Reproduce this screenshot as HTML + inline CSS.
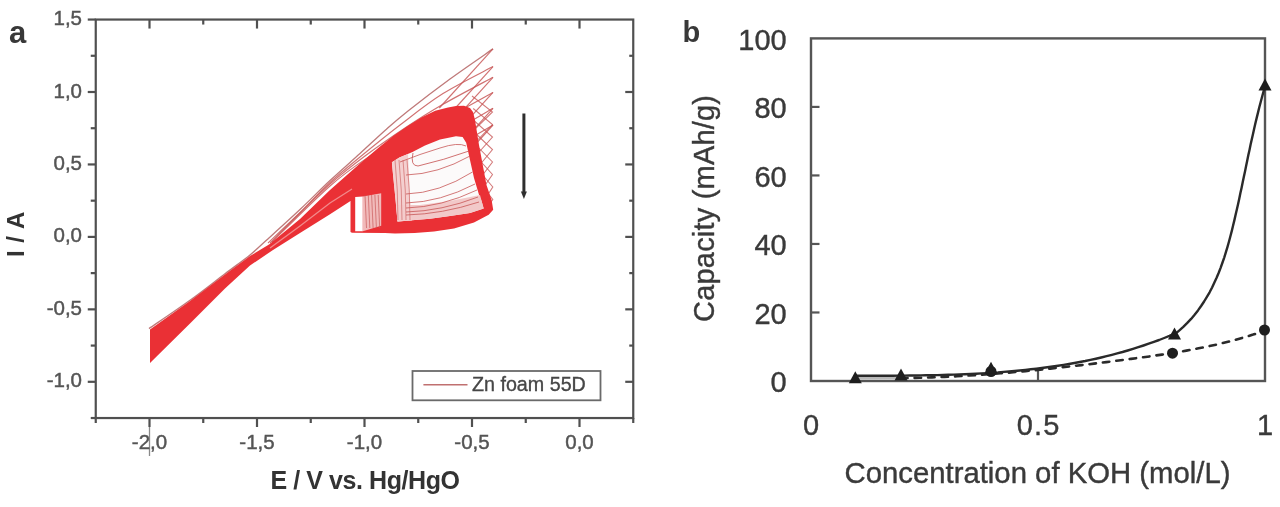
<!DOCTYPE html>
<html><head><meta charset="utf-8">
<style>
html,body{margin:0;padding:0;background:#fff;}
body{width:1280px;height:507px;overflow:hidden;}
svg{display:block;font-family:"Liberation Sans", sans-serif;filter:blur(0.6px);}
</style></head>
<body>
<svg width="1280" height="507" viewBox="0 0 1280 507">
<rect width="1280" height="507" fill="#ffffff"/>
<path d="M149.00,328.60 C155.83,323.88 177.33,309.43 190.00,300.30 C202.67,291.17 215.00,281.35 225.00,273.80 C235.00,266.25 243.33,260.38 250.00,255.00 C256.67,249.62 256.67,249.08 265.00,241.50 C273.33,233.92 289.17,219.67 300.00,209.50 C310.83,199.33 320.00,189.83 330.00,180.50 C340.00,171.17 350.83,161.83 360.00,153.50 C369.17,145.17 377.00,137.58 385.00,130.50 C393.00,123.42 397.17,119.58 408.00,111.00 C418.83,102.42 435.83,89.35 450.00,79.00 C464.17,68.65 485.83,53.92 493.00,48.90" stroke="#b86a6a" stroke-width="1.3" fill="none" opacity="0.9"/>
<path d="M268.00,243.00 C273.33,237.92 289.67,222.58 300.00,212.50 C310.33,202.42 320.00,191.75 330.00,182.50 C340.00,173.25 348.33,166.58 360.00,157.00 C371.67,147.42 386.17,135.57 400.00,125.00 C413.83,114.43 427.50,103.33 443.00,93.60 C458.50,83.87 484.67,71.10 493.00,66.60" stroke="#c85858" stroke-width="1.15" fill="none" opacity="0.85"/>
<path d="M270.00,243.00 C275.00,238.00 290.00,222.83 300.00,213.00 C310.00,203.17 319.17,193.50 330.00,184.00 C340.83,174.50 352.50,165.33 365.00,156.00 C377.50,146.67 392.00,136.62 405.00,128.00 C418.00,119.38 428.33,112.75 443.00,104.30 C457.67,95.85 484.67,81.80 493.00,77.30" stroke="#c85858" stroke-width="1.15" fill="none" opacity="0.85"/>
<path d="M272.00,242.00 C281.67,232.67 313.67,200.33 330.00,186.00 C346.33,171.67 356.67,165.00 370.00,156.00 C383.33,147.00 397.83,138.10 410.00,132.00 C422.17,125.90 429.17,126.00 443.00,119.40 C456.83,112.80 484.67,96.90 493.00,92.40" stroke="#c85858" stroke-width="1.15" fill="none" opacity="0.85"/>
<path d="M400.00,140.00 C407.17,139.17 427.50,140.28 443.00,135.00 C458.50,129.72 484.67,112.75 493.00,108.30" stroke="#c85858" stroke-width="1.15" fill="none" opacity="0.85"/>
<path d="M440.00,150.00 C445.00,148.00 461.17,142.17 470.00,138.00 C478.83,133.83 489.17,127.17 493.00,125.00" stroke="#c85858" stroke-width="1.15" fill="none" opacity="0.85"/>
<path d="M493,48.9 L439.3,108.0" stroke="#c85858" stroke-width="1.15" fill="none" opacity="0.85"/>
<path d="M493,66.6 L455.4,108.0" stroke="#c85858" stroke-width="1.15" fill="none" opacity="0.85"/>
<path d="M493,77.3 L461.2,112.3" stroke="#c85858" stroke-width="1.15" fill="none" opacity="0.85"/>
<path d="M493,92.4 L461.2,127.4" stroke="#c85858" stroke-width="1.15" fill="none" opacity="0.85"/>
<path d="M493,108.3 L461.2,143.3" stroke="#c85858" stroke-width="1.15" fill="none" opacity="0.85"/>
<path d="M493,125 L461.2,160.0" stroke="#c85858" stroke-width="1.15" fill="none" opacity="0.85"/>
<path d="M472.0,96.0 L492.5,112.0 L474.0,130.0" stroke="#c85858" stroke-width="1.05" fill="none" opacity="0.8"/>
<path d="M473.2,108.5 L492.5,124.5 L475.2,142.5" stroke="#c85858" stroke-width="1.05" fill="none" opacity="0.8"/>
<path d="M474.4,121.0 L492.5,137.0 L476.4,155.0" stroke="#c85858" stroke-width="1.05" fill="none" opacity="0.8"/>
<path d="M475.6,133.5 L492.5,149.5 L477.6,167.5" stroke="#c85858" stroke-width="1.05" fill="none" opacity="0.8"/>
<path d="M476.8,146.0 L492.5,162.0 L478.8,180.0" stroke="#c85858" stroke-width="1.05" fill="none" opacity="0.8"/>
<path d="M478.0,158.5 L492.5,174.5 L480.0,192.5" stroke="#c85858" stroke-width="1.05" fill="none" opacity="0.8"/>
<path d="M479.2,171.0 L492.8,187.0 L481.2,205.0" stroke="#c85858" stroke-width="1.05" fill="none" opacity="0.8"/>
<path d="M480.4,183.5 L492.8,199.5 L482.4,214" stroke="#c85858" stroke-width="1.05" fill="none" opacity="0.8"/>
<polygon points="150.0,329.5 190.0,301.0 225.0,274.5 250.0,256.0 269.0,244.5 300.0,219.0 330.0,190.0 360.0,163.5 380.0,146.5 393.8,135.6 407.6,125.9 421.4,117.6 435.2,110.7 448.0,107.6 456.0,106.0 464.0,105.7 470.0,108.0 473.0,112.0 475.0,120.0 479.0,145.0 483.7,170.0 486.5,185.0 491.6,200.0 493.2,209.8 488.7,214.7 474.0,222.6 454.0,228.5 434.0,231.5 414.7,233.0 395.0,233.5 385.0,233.0 352.0,232.8 350.5,232.0 350.5,201.0 330.0,214.2 300.0,233.0 273.0,250.0 250.0,265.5 225.0,288.5 190.0,323.5 150.0,363.0" fill="#ea3035" />
<path d="M270,248 L300,226 L330,203 L352,189" stroke="#f4a0a0" stroke-width="1.3" fill="none" opacity="0.8"/>
<polygon points="391.9,162.2 399.4,157.5 412.5,151.9 425.0,145.5 440.0,139.5 456.0,136.2 462.6,137.0 466.2,142.8 470.0,160.0 474.0,178.0 479.0,194.7 481.5,201.0 483.7,208.5 470.0,213.0 460.0,214.4 450.0,216.0 430.0,218.7 415.0,220.1 397.5,221.5 396.6,210.0 394.7,191.2 392.8,172.5" fill="#fcfafa" />
<polygon points="396.0,205.0 420.0,205.0 450.0,201.0 480.0,195.0 483.7,208.5 470.0,213.0 460.0,214.4 450.0,216.0 430.0,218.7 415.0,220.1 397.5,221.5" fill="#f1c6c6" opacity="0.95"/>
<polygon points="391.9,162.2 399.4,157.5 408.0,154.0 410.0,200.0 412.0,220.5 397.5,221.5 394.7,191.2" fill="#f3cccc" opacity="0.95"/>
<path d="M400,162 Q420,154 440,148 Q458,142 466,146" stroke="#c85858" stroke-width="1" fill="none" opacity="0.8"/>
<path d="M413,153 Q410,166 418,166 Q444,160 469,151" stroke="#c85858" stroke-width="1" fill="none" opacity="0.85"/>
<path d="M406,175 Q438.0,174 470,156" stroke="#c85858" stroke-width="1" fill="none" opacity="0.8"/>
<path d="M406,194 Q439.25,193 472.5,172" stroke="#c85858" stroke-width="1" fill="none" opacity="0.8"/>
<path d="M406,203 Q440.5,202 475,184" stroke="#c85858" stroke-width="1" fill="none" opacity="0.8"/>
<path d="M406,208 Q441.5,207 477,190" stroke="#c85858" stroke-width="1" fill="none" opacity="0.8"/>
<path d="M406,212 Q442.0,211 478,197" stroke="#c85858" stroke-width="1" fill="none" opacity="0.8"/>
<path d="M406,215 Q442.5,214 479,202" stroke="#c85858" stroke-width="1" fill="none" opacity="0.8"/>
<path d="M395,160 Q398,190 398,220" stroke="#c85858" stroke-width="0.9" fill="none" opacity="0.65"/>
<path d="M399,160 Q402,190 402,220" stroke="#c85858" stroke-width="0.9" fill="none" opacity="0.65"/>
<path d="M403,160 Q406,190 406,220" stroke="#c85858" stroke-width="0.9" fill="none" opacity="0.65"/>
<path d="M407,160 Q410,190 410,220" stroke="#c85858" stroke-width="0.9" fill="none" opacity="0.65"/>
<polygon points="355.2,197.0 362.8,196.5 362.8,231.2 355.2,231.2" fill="#ffffff" />
<polygon points="362.8,196.5 381.2,193.3 381.2,225.8 362.8,231.2" fill="#f1c2c2" opacity="0.95"/>
<line x1="365.00" y1="195.00" x2="366.50" y2="228.00" stroke="#c85858" stroke-width="0.9" opacity="0.75"/>
<line x1="368.30" y1="195.00" x2="369.80" y2="228.00" stroke="#c85858" stroke-width="0.9" opacity="0.75"/>
<line x1="371.60" y1="195.00" x2="373.10" y2="228.00" stroke="#c85858" stroke-width="0.9" opacity="0.75"/>
<line x1="374.90" y1="195.00" x2="376.40" y2="228.00" stroke="#c85858" stroke-width="0.9" opacity="0.75"/>
<line x1="378.20" y1="195.00" x2="379.70" y2="228.00" stroke="#c85858" stroke-width="0.9" opacity="0.75"/>
<line x1="523.90" y1="113.50" x2="523.90" y2="193.00" stroke="#2e2e2e" stroke-width="3.0" />
<polygon points="520.9,191.5 526.9,191.5 523.9,199" fill="#2e2e2e"/>
<rect x="95.75" y="19.55" width="537.50" height="398.48" fill="none" stroke="#505050" stroke-width="2.2"/>
<line x1="95.75" y1="418.02" x2="95.75" y2="423.02" stroke="#505050" stroke-width="2.2" />
<line x1="149.50" y1="418.02" x2="149.50" y2="427.02" stroke="#505050" stroke-width="2.2" />
<line x1="149.50" y1="19.55" x2="149.50" y2="28.55" stroke="#505050" stroke-width="2.2" />
<line x1="203.25" y1="418.02" x2="203.25" y2="423.02" stroke="#505050" stroke-width="2.2" />
<line x1="203.25" y1="19.55" x2="203.25" y2="24.55" stroke="#505050" stroke-width="2.2" />
<line x1="257.00" y1="418.02" x2="257.00" y2="427.02" stroke="#505050" stroke-width="2.2" />
<line x1="257.00" y1="19.55" x2="257.00" y2="28.55" stroke="#505050" stroke-width="2.2" />
<line x1="310.75" y1="418.02" x2="310.75" y2="423.02" stroke="#505050" stroke-width="2.2" />
<line x1="310.75" y1="19.55" x2="310.75" y2="24.55" stroke="#505050" stroke-width="2.2" />
<line x1="364.50" y1="418.02" x2="364.50" y2="427.02" stroke="#505050" stroke-width="2.2" />
<line x1="364.50" y1="19.55" x2="364.50" y2="28.55" stroke="#505050" stroke-width="2.2" />
<line x1="418.25" y1="418.02" x2="418.25" y2="423.02" stroke="#505050" stroke-width="2.2" />
<line x1="418.25" y1="19.55" x2="418.25" y2="24.55" stroke="#505050" stroke-width="2.2" />
<line x1="472.00" y1="418.02" x2="472.00" y2="427.02" stroke="#505050" stroke-width="2.2" />
<line x1="472.00" y1="19.55" x2="472.00" y2="28.55" stroke="#505050" stroke-width="2.2" />
<line x1="525.75" y1="418.02" x2="525.75" y2="423.02" stroke="#505050" stroke-width="2.2" />
<line x1="525.75" y1="19.55" x2="525.75" y2="24.55" stroke="#505050" stroke-width="2.2" />
<line x1="579.50" y1="418.02" x2="579.50" y2="427.02" stroke="#505050" stroke-width="2.2" />
<line x1="579.50" y1="19.55" x2="579.50" y2="28.55" stroke="#505050" stroke-width="2.2" />
<line x1="633.25" y1="418.02" x2="633.25" y2="423.02" stroke="#505050" stroke-width="2.2" />
<line x1="95.75" y1="418.02" x2="90.75" y2="418.02" stroke="#505050" stroke-width="2.2" />
<line x1="95.75" y1="381.80" x2="87.75" y2="381.80" stroke="#505050" stroke-width="2.2" />
<line x1="633.25" y1="381.80" x2="625.25" y2="381.80" stroke="#505050" stroke-width="2.2" />
<line x1="95.75" y1="345.58" x2="90.75" y2="345.58" stroke="#505050" stroke-width="2.2" />
<line x1="633.25" y1="345.58" x2="629.25" y2="345.58" stroke="#505050" stroke-width="2.2" />
<line x1="95.75" y1="309.35" x2="87.75" y2="309.35" stroke="#505050" stroke-width="2.2" />
<line x1="633.25" y1="309.35" x2="625.25" y2="309.35" stroke="#505050" stroke-width="2.2" />
<line x1="95.75" y1="273.12" x2="90.75" y2="273.12" stroke="#505050" stroke-width="2.2" />
<line x1="633.25" y1="273.12" x2="629.25" y2="273.12" stroke="#505050" stroke-width="2.2" />
<line x1="95.75" y1="236.90" x2="87.75" y2="236.90" stroke="#505050" stroke-width="2.2" />
<line x1="633.25" y1="236.90" x2="625.25" y2="236.90" stroke="#505050" stroke-width="2.2" />
<line x1="95.75" y1="200.68" x2="90.75" y2="200.68" stroke="#505050" stroke-width="2.2" />
<line x1="633.25" y1="200.68" x2="629.25" y2="200.68" stroke="#505050" stroke-width="2.2" />
<line x1="95.75" y1="164.45" x2="87.75" y2="164.45" stroke="#505050" stroke-width="2.2" />
<line x1="633.25" y1="164.45" x2="625.25" y2="164.45" stroke="#505050" stroke-width="2.2" />
<line x1="95.75" y1="128.22" x2="90.75" y2="128.22" stroke="#505050" stroke-width="2.2" />
<line x1="633.25" y1="128.22" x2="629.25" y2="128.22" stroke="#505050" stroke-width="2.2" />
<line x1="95.75" y1="92.00" x2="87.75" y2="92.00" stroke="#505050" stroke-width="2.2" />
<line x1="633.25" y1="92.00" x2="625.25" y2="92.00" stroke="#505050" stroke-width="2.2" />
<line x1="95.75" y1="55.78" x2="90.75" y2="55.78" stroke="#505050" stroke-width="2.2" />
<line x1="633.25" y1="55.78" x2="629.25" y2="55.78" stroke="#505050" stroke-width="2.2" />
<line x1="95.75" y1="19.55" x2="87.75" y2="19.55" stroke="#505050" stroke-width="2.2" />
<line x1="149.50" y1="427.02" x2="149.50" y2="456.00" stroke="#8a8a8a" stroke-width="1.3" />
<rect x="412.5" y="371" width="188" height="29.3" fill="#fff" stroke="#6a6a6a" stroke-width="1.8"/>
<line x1="423.40" y1="384.80" x2="467.50" y2="384.80" stroke="#c07070" stroke-width="1.5" />
<rect x="811.00" y="38.40" width="454.00" height="342.60" fill="none" stroke="#555555" stroke-width="2.4"/>
<line x1="811.00" y1="312.48" x2="819.50" y2="312.48" stroke="#555555" stroke-width="2.2" />
<line x1="811.00" y1="243.96" x2="819.50" y2="243.96" stroke="#555555" stroke-width="2.2" />
<line x1="811.00" y1="175.44" x2="819.50" y2="175.44" stroke="#555555" stroke-width="2.2" />
<line x1="811.00" y1="106.92" x2="819.50" y2="106.92" stroke="#555555" stroke-width="2.2" />
<line x1="1038.00" y1="381.00" x2="1038.00" y2="371.00" stroke="#555555" stroke-width="2.2" />
<path d="M855.1,375.8 L860.6,375.8 L866.0,375.7 L871.5,375.7 L876.9,375.7 L882.4,375.7 L887.9,375.7 L893.4,375.7 L898.8,375.6 L904.3,375.6 L909.8,375.5 L915.3,375.5 L920.8,375.4 L926.3,375.3 L931.9,375.2 L937.4,375.1 L942.9,375.0 L948.4,374.8 L953.9,374.6 L959.4,374.4 L964.9,374.2 L970.5,374.0 L976.0,373.7 L981.5,373.4 L987.0,373.1 L992.5,372.7 L998.0,372.4 L1003.5,371.9 L1009.0,371.5 L1014.5,371.0 L1019.9,370.5 L1025.4,369.9 L1030.9,369.3 L1036.4,368.7 L1041.8,368.0 L1047.3,367.3 L1052.7,366.5 L1058.1,365.7 L1063.6,364.9 L1069.0,364.0 L1074.4,363.0 L1079.8,362.0 L1085.2,361.0 L1090.5,359.8 L1095.9,358.7 L1101.2,357.5 L1106.6,356.2 L1111.9,354.8 L1117.2,353.4 L1122.5,352.0 L1127.7,350.5 L1133.0,348.9 L1138.3,347.2 L1143.5,345.5 L1148.7,343.7 L1153.9,341.9 L1159.1,340.0 L1164.2,338.0 L1169.4,335.9 L1174.5,333.7 L1174.7,334.3 L1179.1,330.6 L1183.3,326.8 L1187.3,322.9 L1191.1,318.9 L1194.6,314.7 L1198.0,310.4 L1201.1,306.0 L1204.1,301.5 L1206.9,296.9 L1209.6,292.3 L1212.1,287.5 L1214.4,282.6 L1216.6,277.7 L1218.7,272.7 L1220.7,267.6 L1222.5,262.5 L1224.3,257.3 L1225.9,252.1 L1227.5,246.8 L1229.0,241.5 L1230.4,236.2 L1231.8,230.9 L1233.1,225.5 L1234.4,220.1 L1235.6,214.7 L1236.9,209.3 L1238.1,203.9 L1239.3,198.5 L1240.4,193.1 L1241.6,187.7 L1242.7,182.3 L1243.8,176.9 L1245.0,171.5 L1246.1,166.1 L1247.2,160.7 L1248.3,155.3 L1249.5,149.9 L1250.6,144.6 L1251.8,139.2 L1253.0,133.9 L1254.2,128.5 L1255.4,123.2 L1256.7,117.9 L1258.0,112.6 L1259.3,107.3 L1260.7,102.0 L1262.1,96.8 L1263.5,91.5 L1265.0,86.3" stroke="#2a2a2a" stroke-width="2.4" fill="none" stroke-linejoin="round"/>
<path d="M901.1,378.1 L907.3,378.0 L913.5,377.9 L919.7,377.8 L925.9,377.6 L932.1,377.4 L938.3,377.1 L944.5,376.9 L950.8,376.6 L957.0,376.3 L963.2,375.9 L969.4,375.5 L975.7,375.1 L981.9,374.7 L988.1,374.3 L994.3,373.8 L1000.6,373.3 L1006.8,372.8 L1013.0,372.2 L1019.3,371.7 L1025.5,371.1 L1031.7,370.5 L1037.9,369.9 L1044.2,369.2 L1050.4,368.6 L1056.6,367.9 L1062.8,367.2 L1069.1,366.5 L1075.3,365.8 L1081.5,365.1 L1087.7,364.4 L1093.9,363.6 L1100.1,362.8 L1106.3,362.1 L1112.5,361.3 L1118.7,360.5 L1124.9,359.7 L1131.1,358.9 L1137.2,358.0 L1143.4,357.2 L1149.6,356.4 L1155.7,355.5 L1161.9,354.6 L1168.0,353.6 L1174.1,352.7 L1180.3,351.7 L1186.4,350.6 L1192.5,349.5 L1198.6,348.3 L1204.7,347.1 L1210.8,345.8 L1216.9,344.5 L1222.9,343.0 L1229.0,341.5 L1235.1,339.9 L1241.1,338.2 L1247.1,336.4 L1253.1,334.6 L1259.1,332.6 L1265.1,330.5" stroke="#2a2a2a" stroke-width="2.6" fill="none" stroke-dasharray="6.5 7" stroke-linecap="round"/>
<line x1="858" y1="378.4" x2="900" y2="378.2" stroke="#b8b8b8" stroke-width="2.6"/>
<circle cx="991.0" cy="371.5" r="5.5" fill="#1e1e1e"/>
<circle cx="1172.5" cy="353.2" r="5.5" fill="#1e1e1e"/>
<circle cx="1264.5" cy="330.0" r="5.5" fill="#1e1e1e"/>
<polygon points="855.3,371.2 861.8,383.2 848.8,383.2" fill="#1e1e1e"/>
<polygon points="901.0,368.5 907.5,380.5 894.5,380.5" fill="#1e1e1e"/>
<polygon points="991.0,361.8 997.5,373.8 984.5,373.8" fill="#1e1e1e"/>
<polygon points="1174.5,327.6 1181.0,339.6 1168.0,339.6" fill="#1e1e1e"/>
<polygon points="1265.0,78.5 1271.5,90.5 1258.5,90.5" fill="#1e1e1e"/>
<text x="82.00" y="25.05" font-size="20.5" fill="#555555" font-weight="normal" text-anchor="end" stroke="#555555" stroke-width="0.45">1,5</text>
<text x="82.00" y="97.50" font-size="20.5" fill="#555555" font-weight="normal" text-anchor="end" stroke="#555555" stroke-width="0.45">1,0</text>
<text x="82.00" y="169.95" font-size="20.5" fill="#555555" font-weight="normal" text-anchor="end" stroke="#555555" stroke-width="0.45">0,5</text>
<text x="82.00" y="242.40" font-size="20.5" fill="#555555" font-weight="normal" text-anchor="end" stroke="#555555" stroke-width="0.45">0,0</text>
<text x="82.00" y="314.85" font-size="20.5" fill="#555555" font-weight="normal" text-anchor="end" stroke="#555555" stroke-width="0.45">-0,5</text>
<text x="82.00" y="387.30" font-size="20.5" fill="#555555" font-weight="normal" text-anchor="end" stroke="#555555" stroke-width="0.45">-1,0</text>
<text x="149.50" y="449.20" font-size="20.5" fill="#555555" font-weight="normal" text-anchor="middle" stroke="#555555" stroke-width="0.45">-2,0</text>
<text x="257.00" y="449.20" font-size="20.5" fill="#555555" font-weight="normal" text-anchor="middle" stroke="#555555" stroke-width="0.45">-1,5</text>
<text x="364.50" y="449.20" font-size="20.5" fill="#555555" font-weight="normal" text-anchor="middle" stroke="#555555" stroke-width="0.45">-1,0</text>
<text x="472.00" y="449.20" font-size="20.5" fill="#555555" font-weight="normal" text-anchor="middle" stroke="#555555" stroke-width="0.45">-0,5</text>
<text x="579.50" y="449.20" font-size="20.5" fill="#555555" font-weight="normal" text-anchor="middle" stroke="#555555" stroke-width="0.45">0,0</text>
<text x="270.40" y="488.60" font-size="25" fill="#333" font-weight="bold" text-anchor="start" letter-spacing="-0.42">E / V vs. Hg/HgO</text>
<text transform="translate(23.6,257.1) rotate(-90)" font-size="24" fill="#333" font-weight="bold" letter-spacing="0.55">I / A</text>
<text x="9.00" y="42.80" font-size="31" fill="#383838" font-weight="bold" text-anchor="start" >a</text>
<text x="472.00" y="391.00" font-size="19.7" fill="#474747" font-weight="normal" text-anchor="start" stroke="#474747" stroke-width="0.35">Zn foam 55D</text>
<text x="786.70" y="392.40" font-size="29" fill="#3a3a3a" font-weight="normal" text-anchor="end" stroke="#3a3a3a" stroke-width="0.4">0</text>
<text x="786.70" y="323.88" font-size="29" fill="#3a3a3a" font-weight="normal" text-anchor="end" stroke="#3a3a3a" stroke-width="0.4">20</text>
<text x="786.70" y="255.36" font-size="29" fill="#3a3a3a" font-weight="normal" text-anchor="end" stroke="#3a3a3a" stroke-width="0.4">40</text>
<text x="786.70" y="186.84" font-size="29" fill="#3a3a3a" font-weight="normal" text-anchor="end" stroke="#3a3a3a" stroke-width="0.4">60</text>
<text x="786.70" y="118.32" font-size="29" fill="#3a3a3a" font-weight="normal" text-anchor="end" stroke="#3a3a3a" stroke-width="0.4">80</text>
<text x="786.70" y="49.80" font-size="29" fill="#3a3a3a" font-weight="normal" text-anchor="end" stroke="#3a3a3a" stroke-width="0.4">100</text>
<text x="811.00" y="435.00" font-size="29" fill="#3a3a3a" font-weight="normal" text-anchor="middle" stroke="#3a3a3a" stroke-width="0.4" letter-spacing="0">0</text>
<text x="1038.60" y="435.00" font-size="29" fill="#3a3a3a" font-weight="normal" text-anchor="middle" stroke="#3a3a3a" stroke-width="0.4" letter-spacing="1.2">0.5</text>
<text x="1265.00" y="435.00" font-size="29" fill="#3a3a3a" font-weight="normal" text-anchor="middle" stroke="#3a3a3a" stroke-width="0.4" letter-spacing="0">1</text>
<text x="1037.50" y="483.30" font-size="29.3" fill="#3a3a3a" font-weight="normal" text-anchor="middle" stroke="#3a3a3a" stroke-width="0.4">Concentration of KOH (mol/L)</text>
<text transform="translate(713.5,322) rotate(-90)" font-size="29" fill="#3a3a3a" stroke="#3a3a3a" stroke-width="0.4" letter-spacing="0.2">Capacity (mAh/g)</text>
<text x="682.50" y="41.50" font-size="29" fill="#383838" font-weight="bold" text-anchor="start" >b</text>
</svg>
</body></html>
